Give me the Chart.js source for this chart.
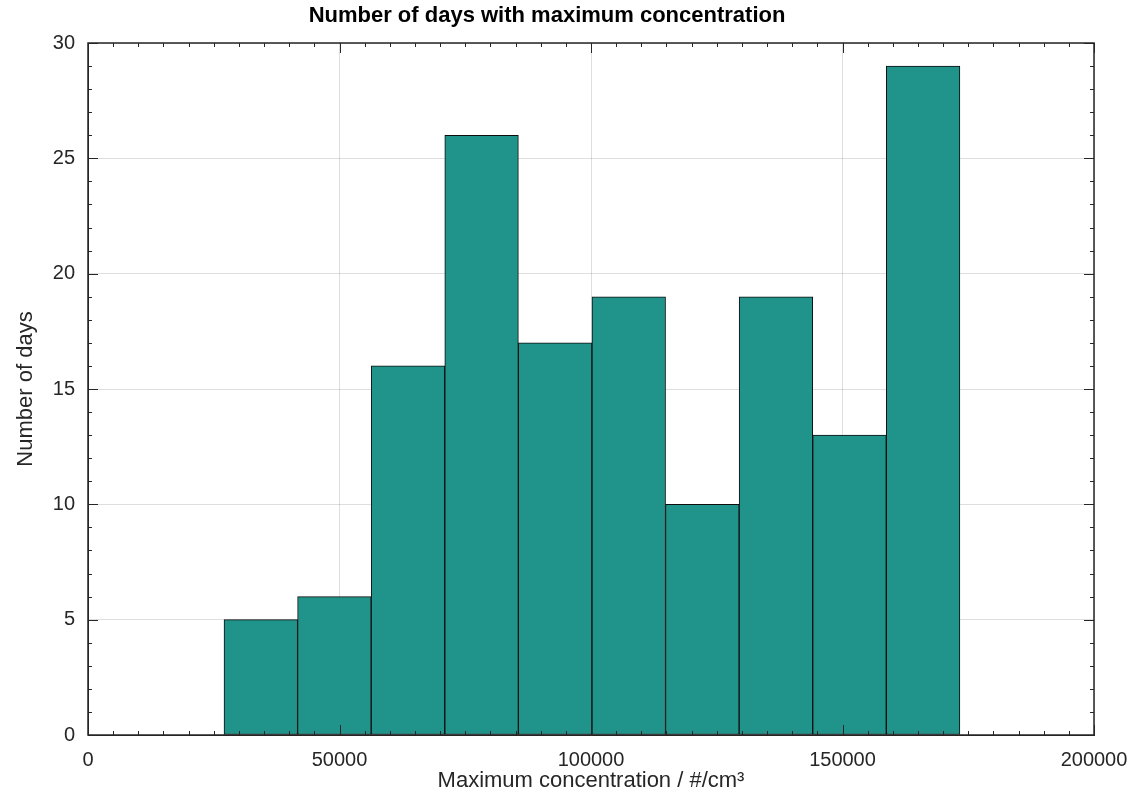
<!DOCTYPE html>
<html lang="en">
<head>
  <meta charset="UTF-8">
  <title>Number of days with maximum concentration</title>
  <script src="https://cdn.jsdelivr.net/npm/chart.js"></script>
</head>
<style>
  body {
    margin: 0;
    padding: 0;
    background: #fff;
  }
  .wrap {
    width: 1136px;
    height: 796px;
  }
</style>
<body>
<div class="wrap">
  <canvas id="histChart" width="1136" height="796"></canvas>
</div>

<script>
  // histogram bins (edges in #/cm³) and counts per bin
  const binEdges = [27040, 41670, 56300, 70930, 85560, 100190, 114820, 129450, 144080, 158710, 173340];
  const dayCounts = [5, 6, 16, 26, 17, 19, 10, 19, 13, 29];
  const xTicks = [0, 50000, 100000, 150000, 200000];
  const yTicks = [0, 5, 10, 15, 20, 25, 30];

  const points = dayCounts.map((c, i) => ({ x: (binEdges[i] + binEdges[i + 1]) / 2, y: c }));

  const axisColor = '#262626';
  const fontFamily = '"Liberation Sans", Arial, sans-serif';

  // inward major/minor ticks on all four sides + box
  const boxTicks = {
    id: 'boxTicks',
    afterDraw(chart) {
      const { ctx, chartArea: a, scales: { x, y } } = chart;
      ctx.save();
      ctx.strokeStyle = axisColor;
      ctx.lineWidth = 1;
      ctx.beginPath();
      for (let v = 0; v <= 200000; v += 5000) {
        const px = Math.round(x.getPixelForValue(v)) + 0.5;
        const len = v % 50000 === 0 ? 10 : 4;
        ctx.moveTo(px, a.bottom); ctx.lineTo(px, a.bottom - len);
        ctx.moveTo(px, a.top); ctx.lineTo(px, a.top + len);
      }
      for (let v = 0; v <= 30; v += 1) {
        const py = Math.round(y.getPixelForValue(v)) + 0.5;
        const len = v % 5 === 0 ? 10 : 4;
        ctx.moveTo(a.left, py); ctx.lineTo(a.left + len, py);
        ctx.moveTo(a.right, py); ctx.lineTo(a.right - len, py);
      }
      ctx.stroke();
      ctx.lineWidth = 1.5;
      ctx.strokeRect(a.left, a.top, a.right - a.left, a.bottom - a.top);
      ctx.restore();
    }
  };

  const ctx = document.getElementById('histChart').getContext('2d');
  new Chart(ctx, {
    type: 'bar',
    data: {
      datasets: [{
        data: points,
        backgroundColor: '#20938a',
        borderColor: '#0d0d0d',
        borderWidth: 1,
        borderSkipped: false,
        barPercentage: 1,
        categoryPercentage: 1
      }]
    },
    options: {
      responsive: false,
      animation: false,
      layout: { padding: { right: 42, left: 0, top: 0, bottom: 0 } },
      plugins: {
        legend: { display: false },
        tooltip: { enabled: false },
        title: {
          display: true,
          text: 'Number of days with maximum concentration',
          color: '#000',
          font: { family: fontFamily, size: 22, weight: 'bold' },
          padding: { top: 3, bottom: 13.6 }
        }
      },
      scales: {
        x: {
          type: 'linear',
          offset: false,
          min: 0,
          max: 200000,
          z: 1,
          afterBuildTicks: s => { s.ticks = xTicks.map(v => ({ value: v })); },
          afterFit: s => { s.height = 61; s.paddingRight = 0; s.paddingLeft = 0; },
          grid: { color: 'rgba(0,0,0,0.13)', lineWidth: 1, drawTicks: false, offset: false },
          border: { display: true, color: axisColor, width: 1 },
          ticks: {
            color: axisColor,
            padding: 13,
            maxRotation: 0,
            callback: v => String(v),
            font: { family: fontFamily, size: 20 }
          },
          title: {
            display: true,
            text: 'Maximum concentration / #/cm³',
            color: axisColor,
            font: { family: fontFamily, size: 22 },
            padding: { top: 0, bottom: 2 }
          }
        },
        y: {
          min: 0,
          max: 30,
          z: 1,
          afterBuildTicks: s => { s.ticks = yTicks.map(v => ({ value: v })); },
          afterFit: s => { s.width = 88; s.paddingTop = 0; s.paddingBottom = 0; },
          grid: { color: 'rgba(0,0,0,0.13)', lineWidth: 1, drawTicks: false },
          border: { display: true, color: axisColor, width: 1 },
          ticks: {
            color: axisColor,
            padding: 13,
            callback: v => String(v),
            font: { family: fontFamily, size: 20 }
          },
          title: {
            display: true,
            text: 'Number of days',
            color: axisColor,
            font: { family: fontFamily, size: 22 },
            padding: { top: 13, bottom: 0 }
          }
        }
      }
    },
    plugins: [boxTicks]
  });
</script>
</body>
</html>
